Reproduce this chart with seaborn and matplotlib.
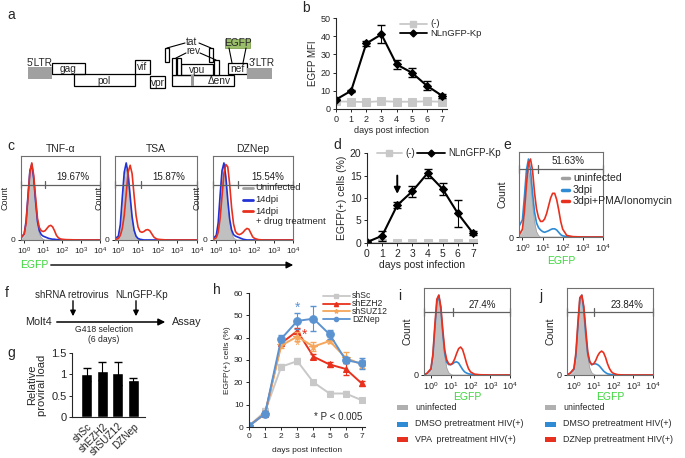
import numpy as np
import pandas as pd
import matplotlib
matplotlib.use('Agg')
import matplotlib.pyplot as plt
from matplotlib.patches import Rectangle
import seaborn as sns

sns.set_style('ticks')
plt.rcParams['font.family'] = ['Liberation Sans', 'DejaVu Sans']
plt.rcParams['mathtext.fontset'] = 'custom'
plt.rcParams['mathtext.rm'] = 'Liberation Sans'
plt.rcParams['mathtext.it'] = 'Liberation Sans'
plt.rcParams['axes.linewidth'] = 0.8

W, H = 685, 458

# ---- data ----
days = [0, 1, 2, 3, 4, 5, 6, 7]

# b: EGFP MFI
b_ctrl = [4.2, 4.0, 3.8, 4.3, 4.0, 4.0, 4.2, 4.0]
b_nl = [5.2, 10.0, 36.0, 41.0, 24.5, 20.0, 12.8, 7.3]
b_nl_err = [0.5, 0.6, 1.2, 5.0, 2.5, 2.5, 2.5, 1.0]

# d: EGFP(+) cells
d_ctrl = [0.1, 0.1, 0.1, 0.1, 0.1, 0.1, 0.1, 0.1]
d_nl = [0.2, 1.6, 8.4, 11.5, 15.5, 12.0, 6.6, 2.2]
d_nl_err = [0.2, 1.1, 0.7, 1.2, 1.0, 1.4, 3.0, 0.5]

# g: relative proviral load
g_labels = ['shSc', 'shEZH2', 'shSUZ12', 'DZNep']
g_vals = [1.0, 1.08, 1.02, 0.87]
g_err = [0.16, 0.21, 0.28, 0.04]

# h: knockdown time course
h_names = ['shSc', 'shEZH2', 'shSUZ12', 'DZNep']
h_sc = [0.5, 7.0, 27.0, 29.5, 20.0, 15.0, 15.0, 12.0]
h_sc_err = [0.3, 1.5, 1.0, 1.5, 1.0, 1.0, 1.0, 1.0]
h_ezh2 = [0.5, 6.0, 37.5, 43.0, 31.5, 28.0, 26.0, 19.5]
h_ezh2_err = [0.3, 1.0, 1.0, 1.5, 1.0, 1.0, 2.5, 1.0]
h_suz12 = [0.5, 6.0, 36.5, 40.5, 36.0, 38.5, 31.0, 28.0]
h_suz12_err = [0.3, 1.0, 1.0, 2.0, 2.0, 1.0, 2.5, 1.5]
h_dznep = [0.5, 6.0, 39.5, 47.5, 48.5, 41.5, 30.0, 28.5]
h_dznep_err = [0.3, 1.0, 1.5, 3.5, 5.5, 2.0, 1.5, 2.5]

# flow histograms (log10 EGFP bins, counts normalised to peak = 100)
LOG_EGFP = [-0.4, -0.2, 0.0, 0.1, 0.2, 0.3, 0.4, 0.5, 0.6, 0.7, 0.8, 0.9, 1.0, 1.1,
            1.2, 1.3, 1.4, 1.5, 1.6, 1.7, 1.8, 1.9, 2.0, 2.2, 2.5, 3.0, 4.0]

tnf_gray = [0, 1, 6, 20, 50, 85, 100, 82, 50, 22, 8, 3, 1, 0, 0, 0, 0, 0, 0, 0, 0, 0, 0, 0, 0, 0, 0]
tnf_blue = [0, 2, 8, 25, 58, 90, 98, 80, 50, 24, 12, 7, 5, 4, 3, 2, 1.5, 1, 1, 0.5, 0.5, 0.3, 0.2, 0, 0, 0, 0]
tnf_red = [0, 2, 8, 22, 55, 88, 100, 84, 55, 28, 16, 12, 11, 12, 15, 18, 19, 17, 12, 6, 3, 1.5, 1, 0.5, 0.3, 0, 0]

tsa_gray = [0, 1, 5, 18, 48, 80, 92, 80, 52, 27, 11, 4, 1, 0, 0, 0, 0, 0, 0, 0, 0, 0, 0, 0, 0, 0, 0]
tsa_blue = [0, 1, 5, 20, 55, 88, 100, 86, 57, 30, 13, 5, 2, 1, 0.5, 0, 0, 0, 0, 0, 0, 0, 0, 0, 0, 0, 0]
tsa_red = [0, 0, 2, 6, 15, 32, 60, 88, 97, 86, 58, 32, 17, 11, 10, 11, 13, 13.5, 12, 8, 4, 2, 1, 0.5, 0, 0, 0]

dz_gray = [0, 1, 5, 20, 52, 85, 95, 77, 47, 22, 9, 3, 1, 0, 0, 0, 0, 0, 0, 0, 0, 0, 0, 0, 0, 0, 0]
dz_blue = [0, 1, 6, 22, 58, 90, 100, 82, 52, 27, 13, 7, 5, 4, 3, 2, 1, 0.5, 0, 0, 0, 0, 0, 0, 0, 0, 0]
dz_red = [0, 0, 3, 10, 28, 57, 86, 98, 95, 72, 42, 21, 11, 8, 7, 8, 10, 13, 15, 14, 9, 4, 2, 0.5, 0, 0, 0]

e_gray = [0, 0, 8, 34, 72, 86, 72, 42, 20, 7, 2, 0, 0, 0, 0, 0, 0, 0, 0, 0, 0, 0, 0, 0, 0, 0, 0]
e_blue = [12, 12, 22, 52, 86, 100, 86, 57, 32, 18, 12, 9, 7, 6, 7, 8, 9.5, 10.5, 10.5, 9, 6, 3, 1.5, 0.5, 0, 0, 0]
e_red = [0, 1, 10, 33, 67, 95, 100, 86, 57, 36, 25, 20, 20, 23, 30, 40, 50, 56, 56, 48, 35, 20, 10, 2, 0.5, 0, 0]

i_gray = [0, 1, 5, 20, 54, 88, 100, 86, 52, 24, 9, 3, 1, 0, 0, 0, 0, 0, 0, 0, 0, 0, 0, 0, 0, 0, 0]
i_blue = [0, 2, 7, 24, 58, 90, 100, 83, 52, 27, 16, 13, 13, 14, 16, 16.5, 15, 11, 7, 4, 2.5, 1.5, 1, 0.5, 0, 0, 0]
i_red = [0, 2, 8, 26, 63, 95, 100, 86, 57, 31, 19, 14, 13, 15, 20, 27, 33, 35, 32, 24, 15, 8, 4, 1, 0.3, 0, 0]

j_gray = [0, 1, 5, 20, 54, 88, 100, 86, 52, 24, 9, 3, 1, 0, 0, 0, 0, 0, 0, 0, 0, 0, 0, 0, 0, 0, 0]
j_blue = [0, 2, 7, 24, 60, 95, 100, 81, 50, 26, 16, 13, 14, 14, 13, 11, 8, 5, 3, 1.5, 1, 0.5, 0.3, 0, 0, 0, 0]
j_red = [0, 2, 8, 28, 65, 97, 100, 86, 57, 29, 17, 13, 14, 18, 24, 28, 30, 28, 22, 14, 8, 4, 2, 0.5, 0, 0, 0]

# colours
GRAY_LINE = '#C8C8C8'
C_BLUE = '#2233D6'
C_RED = '#E8301E'
S_BLUE = '#2E8BD4'
GREEN = '#3AD63A'
H_COLORS = ['#C8C8C8', '#E8321E', '#F5A65B', '#5B93D1']


def box(l, t, r, b):
    return [l / W, 1 - b / H, (r - l) / W, (b - t) / H]


fig = plt.figure(figsize=(6.85, 4.58), dpi=100)


def small_ticks(ax, size=6.5):
    ax.tick_params(labelsize=size, length=2.5, width=0.7, pad=1.5)


def line_panel(ax, xmax, ylim, yticks):
    ax.set_xlim(0, xmax)
    ax.set_ylim(*ylim)
    ax.set_xticks(days)
    ax.set_yticks(yticks)
    sns.despine(ax=ax)
    small_ticks(ax)
    ax.set_xlabel('days post infection', fontsize=6.5, labelpad=2)


# ---- b ----
ax_b = fig.add_axes(box(336, 18, 447, 109))
sns.lineplot(x=days, y=b_ctrl, color=GRAY_LINE, marker='s', markersize=5.5,
             markeredgecolor=GRAY_LINE, lw=1.3, ax=ax_b)
ax_b.errorbar(days, b_nl, yerr=b_nl_err, fmt='none', ecolor='black', elinewidth=0.8, capsize=3)
sns.lineplot(x=days, y=b_nl, color='black', marker='D', markersize=4,
             markeredgecolor='black', lw=1.5, ax=ax_b)
line_panel(ax_b, 7.33, (0, 50), [0, 10, 20, 30, 40, 50])
ax_b.set_ylabel('EGFP MFI', fontsize=7, labelpad=2)

# ---- d ----
ax_d = fig.add_axes(box(367, 153, 477, 243))
sns.lineplot(x=days, y=d_ctrl, color=GRAY_LINE, marker='s', markersize=5.5,
             markeredgecolor=GRAY_LINE, lw=1.3, ax=ax_d)
ax_d.errorbar(days, d_nl, yerr=d_nl_err, fmt='none', ecolor='black', elinewidth=0.8, capsize=3)
sns.lineplot(x=days, y=d_nl, color='black', marker='D', markersize=4,
             markeredgecolor='black', lw=1.5, ax=ax_d)
line_panel(ax_d, 7.27, (0, 20), [0, 5, 10, 15, 20])
ax_d.tick_params(labelsize=7.5)
ax_d.set_xlabel('days post infection', fontsize=7.5, labelpad=1)
ax_d.set_ylabel('EGFP(+) cells (%)', fontsize=7.5, labelpad=2)
ax_d.annotate('', xy=(2, 10.3), xytext=(2, 15.6),
              arrowprops=dict(arrowstyle='-|>', color='black', lw=1.4, mutation_scale=9))

# ---- g ----
ax_g = fig.add_axes(box(72, 353, 145, 417))
sns.barplot(x=g_labels, y=g_vals, color='black', width=0.7, ax=ax_g)
ax_g.errorbar(range(len(g_vals)), g_vals, yerr=g_err, fmt='none', ecolor='black',
              elinewidth=0.8, capsize=3)
ax_g.set_xlim(-0.95, 3.75)
ax_g.set_ylim(0, 1.5)
ax_g.set_yticks([0, 0.5, 1, 1.5])
ax_g.set_yticklabels(['0', '0.5', '1', '1.5'])
sns.despine(ax=ax_g)
small_ticks(ax_g, 8)
ax_g.tick_params(axis='x', length=0, pad=3, labelsize=7.2)
plt.setp(ax_g.get_xticklabels(), rotation=45, ha='right', rotation_mode='anchor')
ax_g.set_ylabel('Relative\nproviral load', fontsize=8, labelpad=3, linespacing=1.0)

# ---- h ----
ax_h = fig.add_axes(box(249, 293, 365, 427))
h_series = [(h_sc, h_sc_err, 's', 5), (h_ezh2, h_ezh2_err, '^', 4.5),
            (h_suz12, h_suz12_err, '*', 5.5), (h_dznep, h_dznep_err, 'o', 5.5)]
for (vals, err, mk, ms), col in zip(h_series, H_COLORS):
    ax_h.errorbar(days, vals, yerr=err, fmt='none', ecolor=col, elinewidth=0.8, capsize=2.5)
    sns.lineplot(x=days, y=vals, color=col, marker=mk, markersize=ms,
                 markeredgecolor=col, lw=1.4, ax=ax_h)
line_panel(ax_h, 7.2, (0, 60), [0, 10, 20, 30, 40, 50, 60])
ax_h.tick_params(labelsize=6)
ax_h.set_xlabel('days post infection', fontsize=6, labelpad=5)
ax_h.set_ylabel('EGFP(+) cells (%)', fontsize=6, labelpad=2)
ax_h.text(3, 53.5, '*', color=H_COLORS[3], fontsize=10, ha='center', va='center')
ax_h.text(3.45, 41.5, '*', color=H_COLORS[1], fontsize=10, ha='center', va='center')
ax_h.text(3, 36.5, '*', color=H_COLORS[2], fontsize=10, ha='center', va='center')
ax_h.text(7.0, 4.5, '* P < 0.005', fontsize=7, ha='right', va='center')


# ---- flow histograms ----
def flow_panel(rect, gray, blue, red, blue_c, xmin, gate_x, gate_y, pct, pct_x,
               tick_size=6, label_size=6.5):
    ax = fig.add_axes(rect)
    x = 10 ** np.array(LOG_EGFP)
    ax.fill_between(x, gray, color='#C0C0C0', lw=0)
    ax.plot(x, gray, color='#A0A0A0', lw=0.5)
    ax.plot(x, blue, color=blue_c, lw=1.2)
    ax.plot(x, red, color=C_RED, lw=1.2)
    ax.set_xscale('log')
    ax.set_xlim(10 ** xmin, 1e4)
    ax.set_ylim(0, 109)
    ax.set_xticks([1, 10, 100, 1000, 10000])
    ax.set_xticklabels(['$10^0$', '$10^1$', '$10^2$', '$10^3$', '$10^4$'])
    ax.xaxis.set_minor_locator(matplotlib.ticker.NullLocator())
    ax.set_yticks([0])
    for s in ax.spines.values():
        s.set_color('#707070')
    small_ticks(ax, tick_size)
    ax.set_ylabel('Count', fontsize=label_size, labelpad=1)
    gy = gate_y * 109
    ax.plot([10 ** xmin, 1e4], [gy, gy], color='#606060', lw=0.9, clip_on=False)
    for gx in [10 ** xmin, 10 ** gate_x, 1e4]:
        ax.plot([gx, gx], [gy - 5, gy + 5], color='#606060', lw=0.9, clip_on=False)
    ax.text(pct_x, gate_y + 0.03, pct, transform=ax.transAxes, fontsize=7,
            ha='center', va='bottom', color='#202020')
    return ax


ax_c1 = flow_panel(box(21, 156, 100, 240), tnf_gray, tnf_blue, tnf_red, C_BLUE,
                   -0.17, 1.11, 0.66, '19.67%', 0.66)
ax_c2 = flow_panel(box(115, 156, 197, 240), tsa_gray, tsa_blue, tsa_red, C_BLUE,
                   -0.17, 1.14, 0.66, '15.87%', 0.65)
ax_c3 = flow_panel(box(213, 156, 293, 240), dz_gray, dz_blue, dz_red, C_BLUE,
                   -0.17, 1.11, 0.66, '15.54%', 0.69)
for ax, title in zip([ax_c1, ax_c2, ax_c3], ['TNF-α', 'TSA', 'DZNep']):
    ax.set_title(title, fontsize=7.5, pad=3)

ax_e = flow_panel(box(519, 152, 603, 237), e_gray, e_blue, e_red, S_BLUE,
                  -0.17, 0.78, 0.80, '51.63%', 0.58, 6.5, 7.5)
ax_e.set_xlabel('EGFP', color=GREEN, fontsize=7.5, labelpad=1)

ax_i = flow_panel(box(424, 288, 510, 375), i_gray, i_blue, i_red, S_BLUE,
                  -0.35, 1.1, 0.72, '27.4%', 0.68, 6.5, 7.5)
ax_i.set_xlabel('EGFP', color=GREEN, fontsize=7.5, labelpad=0)
ax_j = flow_panel(box(567, 288, 653, 375), j_gray, j_blue, j_red, S_BLUE,
                  -0.35, 1.0, 0.72, '23.84%', 0.70, 6.5, 7.5)
ax_j.set_xlabel('EGFP', color=GREEN, fontsize=7.5, labelpad=0)

# ---- canvas for schematics, legends and panel letters ----
cv = fig.add_axes([0, 0, 1, 1])
cv.set_xlim(0, W)
cv.set_ylim(H, 0)
cv.axis('off')

for letter, (lx, ly) in {'a': (7, 15), 'b': (302, 8), 'c': (7, 146), 'd': (333, 145),
                         'e': (503, 145), 'f': (5, 293), 'g': (7, 353), 'h': (213, 290),
                         'i': (398, 296), 'j': (539, 296)}.items():
    cv.text(lx, ly, letter, fontsize=10, ha='left', va='center')

# a: genome map
genes = [('gag', 52, 63, 85, 74), ('pol', 74, 74, 135, 86), ('vif', 135, 60, 150, 74),
         ('vpr', 150, 76, 165, 88), ('vpu', 181, 64, 213, 75), ('Δenv', 172, 75, 234, 86),
         ('nef', 228, 63, 247, 74)]
for name, l, t, r, b in genes:
    cv.add_patch(Rectangle((l, t), r - l, b - t, fill=False, ec='black', lw=0.9))
    lx = (l + r) / 2 if name != 'Δenv' else 219
    cv.text(lx, (t + b) / 2 + 0.5, name, fontsize=7.3, ha='center', va='center')
cv.add_patch(Rectangle((191, 75), 3, 11, fc='#9A9A9A', ec='none'))
for l, t, r, b in [(165, 48, 169, 62), (172, 58, 176, 75), (177, 58, 181, 75),
                   (209, 48, 213, 62), (214, 60, 219, 75)]:
    cv.add_patch(Rectangle((l, t), r - l, b - t, fc='white', ec='black', lw=0.9))
for l, t, r, b, lab, lx in [(28, 67, 52, 79, "5'LTR", 40), (247, 68, 272, 79, "3'LTR", 262)]:
    cv.add_patch(Rectangle((l, t), r - l, b - t, fc='#A0A0A0', ec='none'))
    cv.text(lx, 62.5, lab, fontsize=7.3, ha='center', va='center')
cv.add_patch(Rectangle((225, 39), 25, 9, fc='#9BBE6A', ec='#7FA050', lw=0.6))
cv.text(237.5, 43.5, 'EGFP', fontsize=7.3, ha='center', va='center')
cv.plot([229, 232], [48, 63], color='black', lw=0.8)
cv.plot([246, 243], [48, 63], color='black', lw=0.8)
cv.text(192, 42, 'tat', fontsize=7.3, ha='center', va='center')
cv.text(193, 51.5, 'rev', fontsize=7.3, ha='center', va='center')
cv.plot([167, 185], [48, 43], color='black', lw=0.8)
cv.plot([199, 211], [43, 48], color='black', lw=0.8)
cv.plot([176, 186], [58, 53], color='black', lw=0.8)
cv.plot([200, 216], [53, 60], color='black', lw=0.8)

# b / d legends
for (x0, x1, y, col, mk, ms, lab) in [(400, 427, 24, GRAY_LINE, 's', 5, '(-)'),
                                      (400, 427, 33, 'black', 'D', 3.5, 'NLnGFP-Kp')]:
    cv.plot([x0, x1], [y, y], color=col, lw=1.3)
    cv.plot([(x0 + x1) / 2], [y], marker=mk, color=col, ms=ms)
    cv.text(x1 + 3, y, lab, fontsize=6.8, va='center')
for (x0, x1, y, col, mk, ms, lab) in [(377, 402, 153, GRAY_LINE, 's', 5, '(-)'),
                                      (417, 445, 153, 'black', 'D', 3.5, 'NLnGFP-Kp')]:
    cv.plot([x0, x1], [y, y], color=col, lw=1.3)
    cv.plot([(x0 + x1) / 2], [y], marker=mk, color=col, ms=ms)
    cv.text(x1 + 3, y, lab, fontsize=7, va='center')

# c legend and EGFP arrow
for lab, col, y in [('Uninfected', '#A0A0A0', 188), ('14dpi', C_BLUE, 200), ('14dpi', C_RED, 211)]:
    cv.plot([243, 253], [y, y], color=col, lw=2)
    cv.text(255, y, lab, fontsize=6.8, va='center')
cv.text(256, 222, '+ drug treatment', fontsize=6.8, va='center')
cv.text(20, 265, 'EGFP', color=GREEN, fontsize=7.5, va='center')
cv.annotate('', xy=(296, 265), xytext=(48, 265),
            arrowprops=dict(arrowstyle='-|>', color='black', lw=1.0, mutation_scale=10))

# e legend
for lab, col, y in [('uninfected', '#A0A0A0', 178), ('3dpi', S_BLUE, 190),
                    ('3dpi+PMA/Ionomycin', C_RED, 201)]:
    cv.plot([562, 569], [y, y], color=col, lw=2.5)
    cv.text(573, y, lab, fontsize=7.6, va='center')

# f: schematic
cv.text(52, 322, 'Molt4', fontsize=7.8, ha='right', va='center')
cv.annotate('', xy=(168, 322), xytext=(54, 322),
            arrowprops=dict(arrowstyle='-|>', color='black', lw=1.1, mutation_scale=10))
cv.text(172, 322, 'Assay', fontsize=7.8, ha='left', va='center')
cv.text(72, 295, 'shRNA retrovirus', fontsize=7, ha='center', va='center')
cv.text(142, 295, 'NLnGFP-Kp', fontsize=7, ha='center', va='center')
for ax_x in [73, 136]:
    cv.annotate('', xy=(ax_x, 319), xytext=(ax_x, 298),
                arrowprops=dict(arrowstyle='-|>', color='black', lw=1.0, mutation_scale=8))
cv.text(104, 329, 'G418 selection', fontsize=6.2, ha='center', va='center')
cv.text(104, 339, '(6 days)', fontsize=6.2, ha='center', va='center')

# h legend
h_markers = ['s', '^', '*', 'o']
for k, (name, col, mk) in enumerate(zip(h_names, H_COLORS, h_markers)):
    y = 296 + k * 7.7
    cv.plot([323, 350], [y, y], color=col, lw=1.3)
    cv.plot([336.5], [y], marker=mk, color=col, ms=3)
    cv.text(352, y, name, fontsize=6.2, va='center')

# i / j legends
for x0, labels in [(397, ['uninfected', 'DMSO pretreatment HIV(+)', 'VPA  pretreatment HIV(+)']),
                   (545, ['uninfected', 'DMSO pretreatment HIV(+)', 'DZNep pretreatment HIV(+)'])]:
    for lab, col, y in zip(labels, ['#B0B0B0', S_BLUE, C_RED], [407, 424, 439]):
        cv.add_patch(Rectangle((x0, y - 2.5), 11, 5, fc=col, ec='none'))
        cv.text(x0 + 18, y, lab, fontsize=6.4, va='center')

fig.savefig('out.png', dpi=100)
